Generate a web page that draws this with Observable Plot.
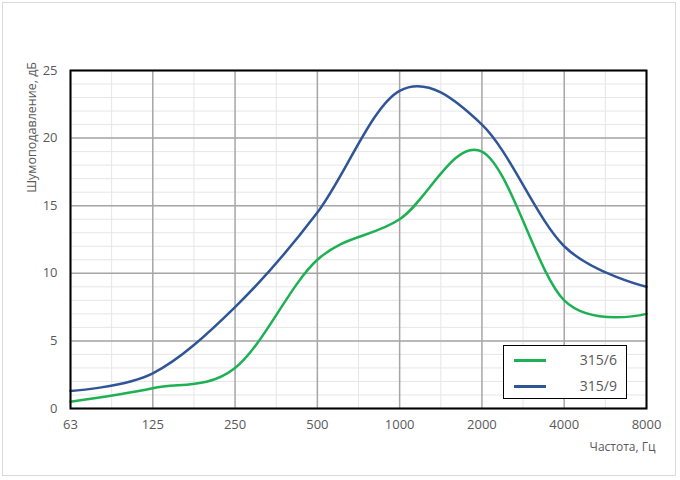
<!DOCTYPE html>
<html><head><meta charset="utf-8">
<script src="https://cdn.jsdelivr.net/npm/d3@7"></script>
<script src="https://cdn.jsdelivr.net/npm/@observablehq/plot@0.6"></script>
<style>
body{margin:0;background:#fff;font-family:"Open Sans",sans-serif;}
#wrap{position:relative;width:680px;height:480px;}
#border{position:absolute;left:2px;top:2px;width:672px;height:472px;border:1px solid #d9d9d9;}
#legend{position:absolute;left:503px;top:345px;width:122px;height:52px;border:1.5px solid #000;background:#fff;font-size:14px;color:#595959;}
.row{position:absolute;left:0;width:122px;height:20px;}
.sw{position:absolute;left:10px;top:9px;width:32px;height:2.5px;}
.lb{position:absolute;right:9px;top:0;line-height:20px;}
#ylab{position:absolute;left:24px;top:62px;writing-mode:vertical-rl;transform:rotate(180deg);font-size:12.5px;color:#595959;line-height:16px;white-space:nowrap;}
svg{position:absolute;left:0;top:0;}
</style></head>
<body><div id="wrap"><div id="border"></div></div>
<script>
const freqLabels = ["63","125","250","500","1000","2000","4000","8000"];
const series6 = [0.5, 1.5, 3.0, 11.0, 14.0, 19.0, 8.0, 7.0];
const series9 = [1.3, 2.6, 7.5, 14.5, 23.5, 21.0, 12.0, 9.0];
const seriesNames = ["315/6", "315/9"];
const seriesColors = ["#1db154", "#2f5597"];
const yTicks = [0, 5, 10, 15, 20, 25];
const yTitle = "Шумоподавление, дБ";
const xTitle = "Частота, Гц";

const data = [];
[series6, series9].forEach((s, k) => s.forEach((v, i) => data.push({i, v, name: seriesNames[k]})));

const chart = Plot.plot({
  width: 680, height: 480,
  marginLeft: 70, marginRight: 34, marginTop: 70, marginBottom: 72,
  style: {fontFamily: "Open Sans, sans-serif", fontSize: "13px", color: "#595959", background: "transparent"},
  x: {domain: [0, freqLabels.length - 1], ticks: d3.range(freqLabels.length), tickFormat: i => freqLabels[i], tickSize: 0, tickPadding: 11, label: null},
  y: {domain: [0, 25], ticks: yTicks, tickSize: 0, tickPadding: 13, label: null},
  color: {domain: seriesNames, range: seriesColors},
  marks: [
    Plot.ruleY(d3.range(0, 26), {stroke: "#e6e6e6", strokeWidth: 1}),
    Plot.ruleX(d3.range(0.5, freqLabels.length - 1, 1), {stroke: "#e6e6e6", strokeWidth: 1}),
    Plot.ruleY(yTicks, {stroke: "#a6a6a6", strokeWidth: 1.5}),
    Plot.ruleX(d3.range(freqLabels.length), {stroke: "#a6a6a6", strokeWidth: 1.5}),
    Plot.line(data, {x: "i", y: "v", z: "name", stroke: "name", strokeWidth: 2.5, curve: "cardinal", tension: 0}),
    Plot.frame({stroke: "#000", strokeWidth: 2}),
    Plot.text([xTitle], {frameAnchor: "bottom-right", dx: 9, dy: 42, textAnchor: "end", fill: "#595959", fontSize: 12})
  ]
});
const wrap = document.getElementById("wrap");
wrap.appendChild(chart);

const ylab = document.createElement("div");
ylab.id = "ylab";
ylab.textContent = yTitle;
wrap.appendChild(ylab);

const legend = document.createElement("div");
legend.id = "legend";
seriesNames.forEach((n, k) => {
  const row = document.createElement("div");
  row.className = "row";
  row.style.top = (4 + k * 26) + "px";
  row.innerHTML = `<div class="sw" style="background:${seriesColors[k]}"></div><div class="lb">${n}</div>`;
  legend.appendChild(row);
});
wrap.appendChild(legend);
</script></body></html>
